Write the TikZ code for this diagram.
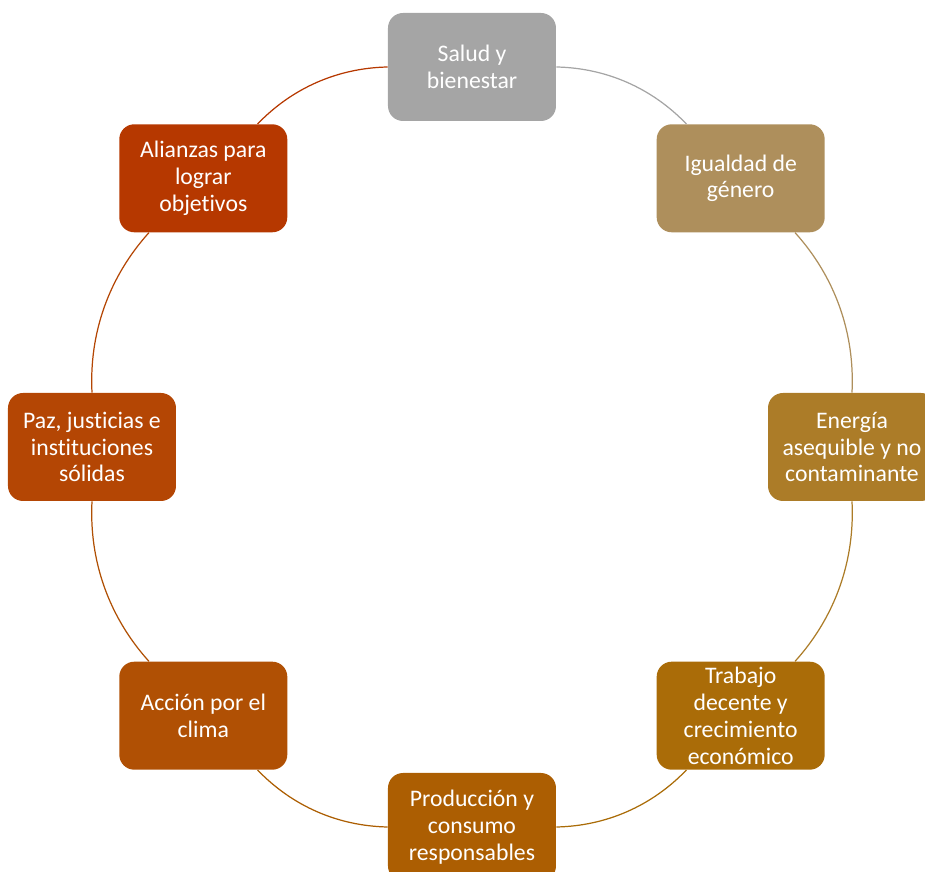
\documentclass[tikz,border=0pt]{standalone}
\usepackage{fontspec}
\setmainfont{Carlito}[Ligatures={NoCommon}]
\usepackage{tikz}

\definecolor{cSalud}{RGB}{165,165,165}
\definecolor{cIgualdad}{RGB}{174,143,92}
\definecolor{cEnergia}{RGB}{172,124,40}
\definecolor{cTrabajo}{RGB}{170,108,8}
\definecolor{cProduccion}{RGB}{172,94,2}
\definecolor{cAccion}{RGB}{176,80,4}
\definecolor{cPaz}{RGB}{180,70,4}
\definecolor{cAlianzas}{RGB}{182,56,0}

\tikzset{
  goal/.style={fill=#1, rounded corners=.3cm, text=white, align=center,
    minimum width=3.36cm, minimum height=2.16cm, inner sep=2pt,
    font=\fontsize{13.5}{15.3}\selectfont},
  link/.style={draw=#1, line width=.7pt, bend left=22.5, looseness=.9}
}

\begin{document}
\begin{tikzpicture}
\useasboundingbox (-9.44,-8.5) rectangle (9.06,8.94);

\node (salud)      [goal=cSalud]      at (90:7.6)   {Salud y\\bienestar};
\node (igualdad)   [goal=cIgualdad]   at (45:7.6)   {Igualdad de\\género};
\node (energia)    [goal=cEnergia]    at (0:7.6)    {Energía\\asequible y no\\contaminante};
\node (trabajo)    [goal=cTrabajo]    at (-45:7.6)  {Trabajo\\decente y\\crecimiento\\económico};
\node (produccion) [goal=cProduccion] at (-90:7.6)  {Producción y\\consumo\\responsables};
\node (accion)     [goal=cAccion]     at (-135:7.6) {Acción por el\\clima};
\node (paz)        [goal=cPaz]        at (180:7.6)  {Paz, justicias e\\instituciones\\sólidas};
\node (alianzas)   [goal=cAlianzas]   at (135:7.6)  {Alianzas para\\lograr\\objetivos};

\draw [link=cSalud]      (salud) to (igualdad);
\draw [link=cIgualdad]   (igualdad) to (energia);
\draw [link=cEnergia]    (energia) to (trabajo);
\draw [link=cTrabajo]    (trabajo) to (produccion);
\draw [link=cProduccion] (produccion) to (accion);
\draw [link=cAccion]     (accion) to (paz);
\draw [link=cPaz]        (paz) to (alianzas);
\draw [link=cAlianzas]   (alianzas) to (salud);
\end{tikzpicture}
\end{document}
